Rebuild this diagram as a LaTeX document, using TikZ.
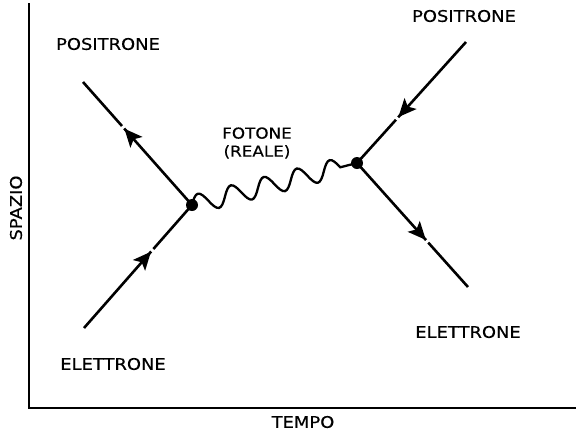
\documentclass[tikz,border=0pt]{standalone}
\usepackage{fontspec}
\setmainfont{DejaVu Sans}[FakeStretch=1.12,FakeBold=0.4]
\usetikzlibrary{arrows.meta,decorations.pathmorphing,decorations.markings}
\newcommand{\Vertice}[1]{%
  \node[fill=black,circle,inner sep=0pt,minimum size=12pt] at (#1) {};%
}

\begin{document}
\begin{tikzpicture}[x=1pt,y=-1pt,
  asse/.style={line width=1.6pt},
  fermione/.style={line width=2.6pt,postaction={decorate},
    decoration={markings,mark=at position 0.62 with {%
      \fill[white] (0.5pt,-3pt) rectangle (3.5pt,3pt);
      \arrow{Stealth[length=18pt,width=16pt,inset=4pt]}}}},
  fotone/.style={line width=2.3pt,decorate,decoration={coil,aspect=0,segment length=34pt,amplitude=9.5pt}},
  etichetta/.style={font=\fontsize{16}{19}\selectfont,align=center,inner sep=0pt}]
\useasboundingbox (0,0) rectangle (576,432);
\coordinate (cima) at (29,3);
\coordinate (o) at (29,408);
\coordinate (fine) at (576,408);
\draw[asse] (cima) -- (o) -- (fine);
\node[etichetta] (tempo) at (303,422) {TEMPO};
\node[etichetta,rotate=90] (spazio) at (16,208) {SPAZIO};
\coordinate (v1) at (192,205);
\coordinate (v2) at (357,163);
\coordinate (e1) at (84,328);
\coordinate (p1) at (83,82);
\coordinate (p2) at (466,42);
\coordinate (e2) at (468,287);
\draw[fermione] (e1) -- (v1);
\draw[fermione] (v1) -- (p1);
\draw[fermione] (p2) -- (v2);
\draw[fermione] (v2) -- (e2);
\draw[fotone] (v1) -- (v2);
\Vertice{v1}
\Vertice{v2}
\node[etichetta] (lpos1) at (108,44) {POSITRONE};
\node[etichetta] (lele1) at (113,364) {ELETTRONE};
\node[etichetta] (lpos2) at (464,16) {POSITRONE};
\node[etichetta] (lele2) at (468,332) {ELETTRONE};
\node[etichetta,font=\fontsize{15}{18}\selectfont] (lfot) at (257,143) {FOTONE\\(REALE)};
\end{tikzpicture}
\end{document}
